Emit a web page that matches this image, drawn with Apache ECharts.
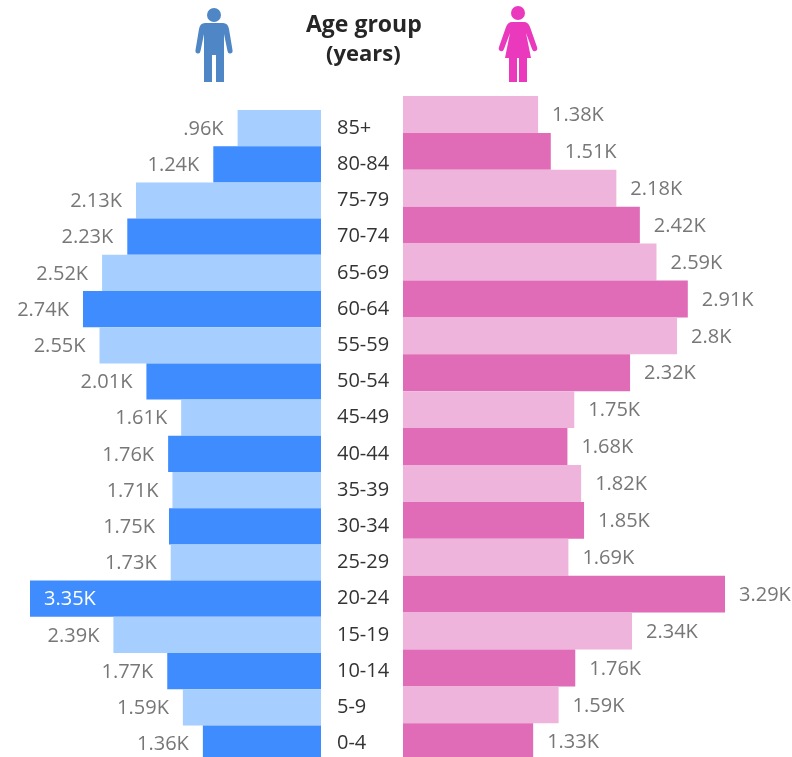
<!DOCTYPE html>
<html>
<head>
<meta charset="utf-8">
<style>html,body{margin:0;padding:0;background:#fff;overflow:hidden}#main{width:792px;height:757px}</style>
<script src="https://cdn.jsdelivr.net/npm/echarts@6/dist/echarts.min.js"></script>
</head>
<body>
<div id="main"></div>
<script>
var ageGroups = ['85+','80-84','75-79','70-74','65-69','60-64','55-59','50-54','45-49','40-44','35-39','30-34','25-29','20-24','15-19','10-14','5-9','0-4'];
var maleValues = [0.96,1.24,2.13,2.23,2.52,2.74,2.55,2.01,1.61,1.76,1.71,1.75,1.73,3.35,2.39,1.77,1.59,1.36];
var femaleValues = [1.38,1.51,2.18,2.42,2.59,2.91,2.8,2.32,1.75,1.68,1.82,1.85,1.69,3.29,2.34,1.76,1.59,1.33];

var font = '"Open Sans", "Noto Sans", sans-serif';

// the graphic component has no plain path type, so register the icons as shapes
echarts.graphic.registerShape('manBody', echarts.graphic.extendPath(
    'M205 23H223Q228 23 229 29L232.5 50Q233 53 230.5 53.5Q228 54 227.5 51L224 34V82H216V55H212V82H204V34L200.5 51Q200 54 197.5 53.5Q195 53 195.5 50L199 29Q200 23 205 23Z', {}));
echarts.graphic.registerShape('womanBody', echarts.graphic.extendPath(
    'M512 22H524Q528 22 530 27L537 47Q538 50 535.5 51Q533 52 532 49L526 33L531 58H527V82H519V58H517V82H509V58H505L510 33L504 49Q503 52 500.5 51Q498 50 499 47L506 27Q508 22 512 22Z', {}));

// 1.24 -> 1.24K, 2.8 -> 2.8K, 0.96 -> .96K
function fmt(p) {
    return String(p.value).replace(/^0/, '') + 'K';
}

// rows alternate light / dark
function rows(values, light, dark) {
    return values.map(function (v, i) {
        return {value: v, itemStyle: {color: i % 2 ? dark : light}};
    });
}

var maleData = rows(maleValues, '#A6CEFF', '#3F8CFF');
// the 20-24 bar is long enough to hold its own label
maleData[13].label = {position: 'insideLeft', distance: 14, color: '#fff'};

var myChart = echarts.init(document.getElementById('main'), null, {renderer: 'canvas'});

var option = {
    animation: false,
    backgroundColor: '#fff',
    // the last row runs off the bottom of the picture, so no bounds clamping
    grid: [
        {left: 30, width: 291, top: 110, height: 651.6, outerBoundsMode: 'none'},
        {left: 403, width: 322, top: 96, height: 664.2, outerBoundsMode: 'none'}
    ],
    xAxis: [
        {gridIndex: 0, type: 'value', inverse: true, min: 0, max: 3.35, show: false},
        {gridIndex: 1, type: 'value', min: 0, max: 3.29, show: false}
    ],
    yAxis: [
        {
            gridIndex: 0, type: 'category', inverse: true, position: 'right', data: ageGroups,
            axisLine: {show: false}, axisTick: {show: false},
            axisLabel: {margin: 16, color: '#333', fontSize: 20, fontFamily: font, align: 'left', interval: 0, padding: [2, 0, 0, 0]}
        },
        {
            gridIndex: 1, type: 'category', inverse: true, data: ageGroups,
            axisLine: {show: false}, axisTick: {show: false}, axisLabel: {show: false}
        }
    ],
    series: [
        {
            name: 'Male', type: 'bar', xAxisIndex: 0, yAxisIndex: 0, barCategoryGap: 0,
            data: maleData,
            label: {show: true, position: 'left', distance: 14, offset: [0, 1], color: '#777', fontSize: 20, fontFamily: font, formatter: fmt}
        },
        {
            name: 'Female', type: 'bar', xAxisIndex: 1, yAxisIndex: 1, barCategoryGap: 0,
            data: rows(femaleValues, '#EEB4DC', '#E06BB6'),
            label: {show: true, position: 'right', distance: 14, offset: [0, 1], color: '#777', fontSize: 20, fontFamily: font, formatter: fmt}
        }
    ],
    graphic: [
        {type: 'text', left: 306, top: 14, style: {text: 'Age group', fill: '#262626', font: 'bold 23px ' + font}},
        {type: 'text', left: 326, top: 44, style: {text: '(years)', fill: '#262626', font: 'bold 22px ' + font}},
        // man icon
        {type: 'circle', shape: {cx: 214, cy: 15, r: 7}, style: {fill: '#4F86C6'}},
        {type: 'manBody', style: {fill: '#4F86C6'}},
        // woman icon
        {type: 'circle', shape: {cx: 518, cy: 13, r: 7}, style: {fill: '#EA39BD'}},
        {type: 'womanBody', style: {fill: '#EA39BD'}}
    ]
};

myChart.setOption(option);
</script>
</body>
</html>
